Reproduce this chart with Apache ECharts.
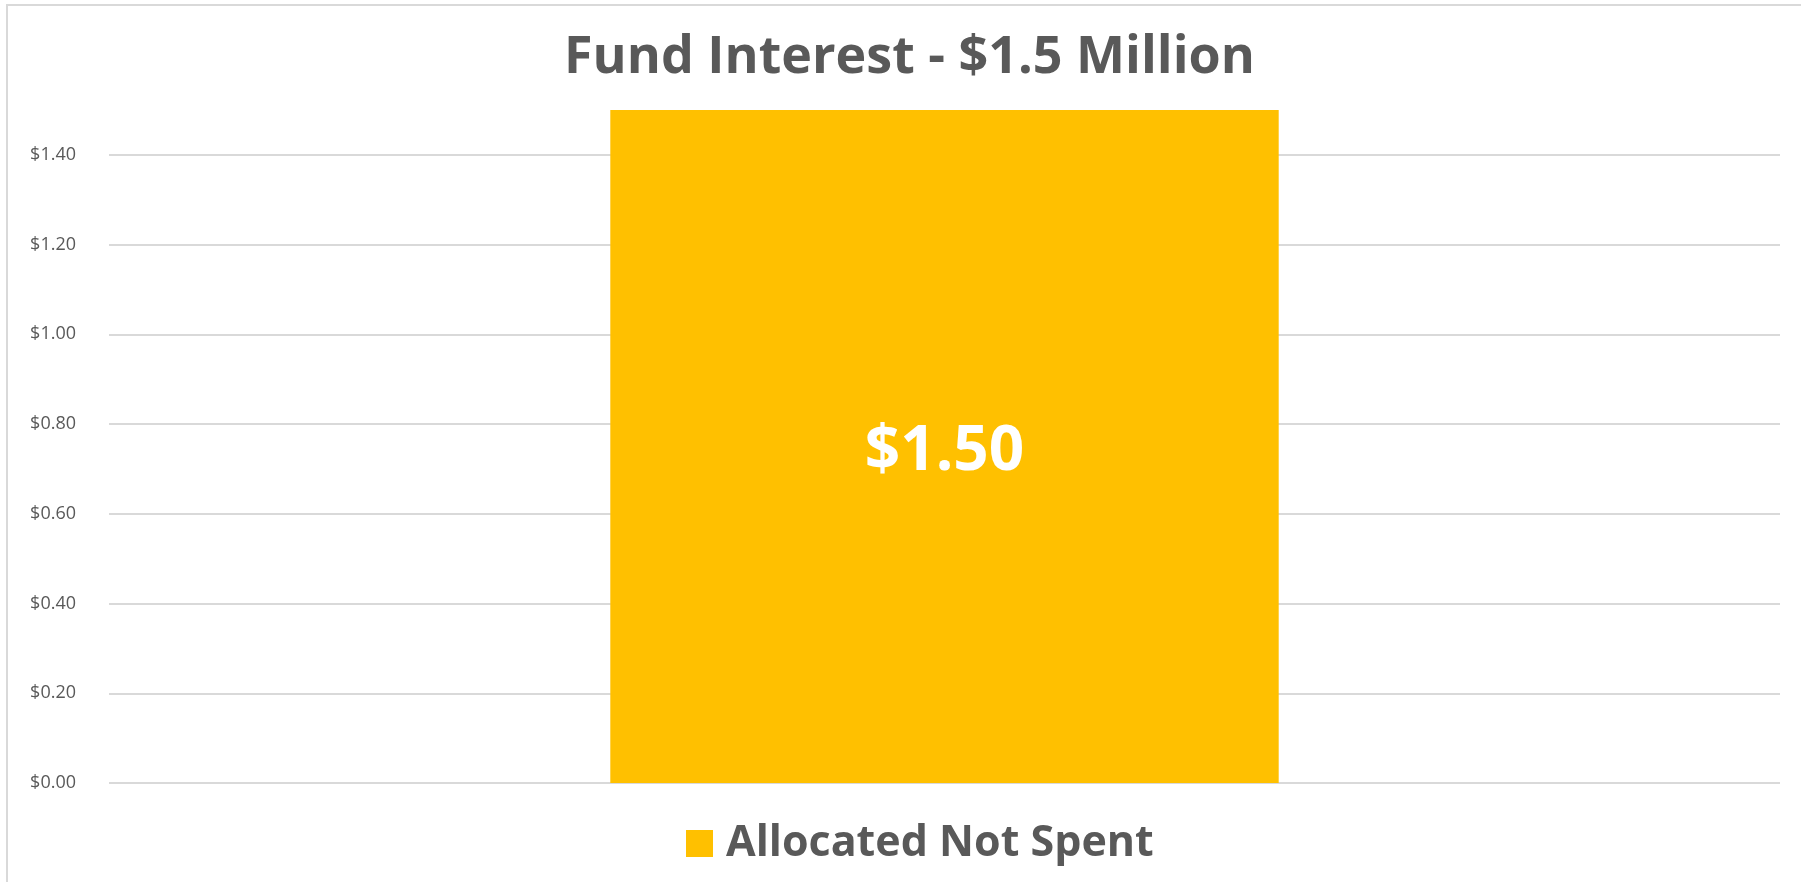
<!DOCTYPE html>
<html>
<head>
<meta charset="utf-8">
<script src="https://cdn.jsdelivr.net/npm/echarts@6/dist/echarts.min.js"></script>
<style>
  html, body { margin: 0; padding: 0; background: #fff; overflow: hidden; }
  #frame {
    position: absolute; left: 6px; top: 4px;
    width: 1820px; height: 900px;
    border: 2px solid #d9d9d9; box-sizing: border-box;
  }
  #chart { position: absolute; left: 0; top: 0; width: 1801px; height: 882px; }
</style>
</head>
<body>
<div id="frame"></div>
<div id="chart"></div>
<script>
// data
const categories = ['Fund Interest'];
const seriesName = 'Allocated Not Spent';
const allocatedNotSpent = [1.5];
const yMin = 0;
const yMax = 1.5;
const yStep = 0.2;

const chart = echarts.init(document.getElementById('chart'));

chart.setOption({
  animation: false,
  title: {
    text: 'Fund Interest - $1.5 Million',
    left: 559,
    top: 27,
    textStyle: {
      fontFamily: 'Open Sans',
      fontWeight: 'bold',
      fontSize: 52,
      color: '#595959',
    },
  },
  legend: {
    data: [seriesName],
    bottom: 12,
    left: 681,
    icon: 'rect',
    itemWidth: 27,
    itemHeight: 27,
    textStyle: {
      fontFamily: 'Open Sans',
      fontWeight: 'bold',
      fontSize: 43,
      color: '#595959',
      padding: [0, 0, 0, 8],
    },
  },
  grid: {
    left: 109,
    right: 21,
    top: 110,
    bottom: 99,
  },
  xAxis: {
    type: 'category',
    data: categories,
    axisLine: { show: false },
    axisTick: { show: false },
    axisLabel: { show: false },
  },
  yAxis: {
    type: 'value',
    min: yMin,
    max: yMax,
    interval: yStep,
    axisLine: { show: false },
    axisTick: { show: false },
    axisLabel: {
      showMaxLabel: false,
      margin: 33,
      fontFamily: 'Open Sans',
      fontSize: 18,
      color: '#595959',
      formatter: (v) => '$' + v.toFixed(2),
    },
    splitLine: {
      showMaxLine: false,
      lineStyle: { color: '#d9d9d9', width: 2 },
    },
  },
  series: [
    {
      name: seriesName,
      type: 'bar',
      data: allocatedNotSpent,
      barWidth: '40%',
      itemStyle: { color: '#ffc000' },
      label: {
        show: true,
        position: 'inside',
        offset: [0, 6],
        color: '#fff',
        fontFamily: 'Open Sans',
        fontWeight: 'bold',
        fontSize: 62,
        formatter: (p) => '$' + p.value.toFixed(2),
      },
    },
  ],
});
</script>
</body>
</html>
